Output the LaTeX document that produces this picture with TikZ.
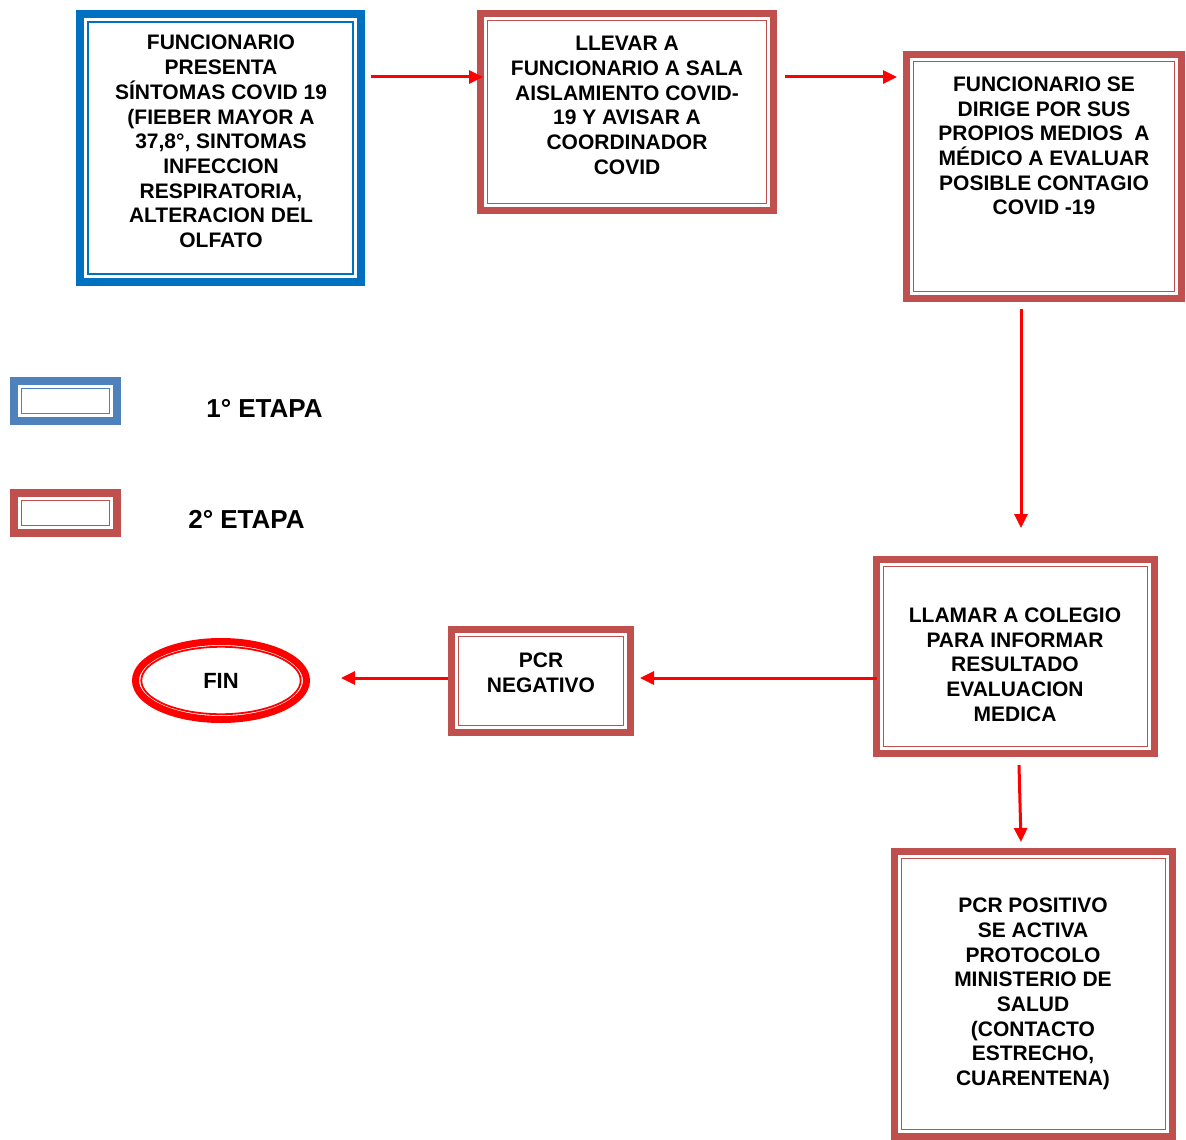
\documentclass[tikz,border=0pt]{standalone}
\usepackage{fontspec}
\setmainfont{Liberation Sans}
\usetikzlibrary{arrows.meta,shapes.geometric}

\definecolor{stageone}{HTML}{0070C0}
\definecolor{legendblue}{HTML}{4F81BD}
\definecolor{stagetwo}{HTML}{C0504D}
\definecolor{flowred}{HTML}{FF0000}

\tikzset{
  stagebox/.style={draw=#1, line width=7pt, fill=white, inner sep=0pt, rectangle},
  boxtext/.style={align=center, inner sep=0pt, font=\bfseries\fontsize{21}{24.7}\selectfont},
  legendtext/.style={inner sep=0pt, font=\bfseries\fontsize{26}{30}\selectfont},
  flow/.style={draw=flowred, line width=3pt, -{Triangle[length=14pt, width=13pt]}},
}

% inner thin frame of a double-framed box, #3 = inset from the outer edge
\newcommand{\innerframe}[3]{%
  \draw[#2, line width=1.7pt] ([shift={(#3,#3)}]#1.north west) rectangle ([shift={(-#3,-#3)}]#1.south east);}

\begin{document}
\begin{tikzpicture}[x=1pt, y=-1pt]
  \useasboundingbox[fill=white] (0,0) rectangle (1186,1140);

  % process boxes
  \node[stagebox=stageone, line width=8pt, minimum width=281pt, minimum height=268pt] (b1) at (220.5,148) {};
  \node[stagebox=stagetwo, minimum width=293pt, minimum height=197pt] (b2) at (627,112) {};
  \node[stagebox=stagetwo, minimum width=275pt, minimum height=244pt] (b3) at (1044,176.5) {};
  \node[stagebox=stagetwo, minimum width=278pt, minimum height=194pt] (b4) at (1015.5,656.5) {};
  \node[stagebox=stagetwo, minimum width=179pt, minimum height=103pt] (b5) at (541,681) {};
  \node[stagebox=stagetwo, minimum width=278pt, minimum height=285pt] (b6) at (1033.5,994) {};

  \innerframe{b1}{stageone}{12}
  \innerframe{b2}{stagetwo}{10.5}
  \innerframe{b3}{stagetwo}{10.5}
  \innerframe{b4}{stagetwo}{10.5}
  \innerframe{b5}{stagetwo}{10.5}
  \innerframe{b6}{stagetwo}{10.5}

  % box texts
  \node[boxtext] (t1) at (221,141.5) {FUNCIONARIO\\PRESENTA\\SÍNTOMAS COVID 19\\(FIEBER MAYOR A\\37,8°, SINTOMAS\\INFECCION\\RESPIRATORIA,\\ALTERACION DEL\\OLFATO};
  \node[boxtext] (t2) at (627,105.5) {LLEVAR A\\FUNCIONARIO A SALA\\AISLAMIENTO COVID-\\19 Y AVISAR A\\COORDINADOR\\COVID};
  \node[boxtext] (t3) at (1044,146) {FUNCIONARIO SE\\DIRIGE POR SUS\\PROPIOS MEDIOS~~A\\MÉDICO A EVALUAR\\POSIBLE CONTAGIO\\COVID -19};
  \node[boxtext] (t4) at (1015,664.5) {LLAMAR A COLEGIO\\PARA INFORMAR\\RESULTADO\\EVALUACION\\MEDICA};
  \node[boxtext] (t5) at (541,673) {PCR\\NEGATIVO};
  \node[boxtext] (t6) at (1033,994) {PCR POSITIVO\\SE ACTIVA\\PROTOCOLO\\MINISTERIO DE\\SALUD\\(CONTACTO\\ESTRECHO,\\CUARENTENA)};

  % end terminal
  \node[draw=flowred, ellipse, line width=7pt, fill=white, inner sep=0pt,
        minimum width=171pt, minimum height=78pt,
        font=\bfseries\fontsize{22}{26}\selectfont] (fin) at (221,680.5) {FIN};
  \draw[flowred, line width=1.8pt] (fin.center) ellipse [x radius=79.7, y radius=33.7];

  % legend
  \node[stagebox=legendblue, line width=8pt, minimum width=103pt, minimum height=40pt] (l1) at (65.5,401) {};
  \innerframe{l1}{legendblue}{11.5}
  \node[legendtext] (lt1) at (264.5,408) {1° ETAPA};
  \node[stagebox=stagetwo, line width=8pt, minimum width=103pt, minimum height=40pt] (l2) at (65.5,513) {};
  \innerframe{l2}{stagetwo}{11.5}
  \node[legendtext] (lt2) at (246.5,519) {2° ETAPA};

  % connectors
  \draw[flow] ([shift={(6,-71)}]b1.east) -- ([shift={(6,-35)}]b2.west);
  \draw[flow] ([shift={(8,-35)}]b2.east) -- ([shift={(-6,-99.5)}]b3.west);
  \draw[flow] ([shift={(-23,6.5)}]b3.south) -- ([shift={(5.5,-28)}]b4.north);
  \draw[flow] ([shift={(4,21.5)}]b4.west) -- ([shift={(6,-3)}]b5.east);
  \draw[flow] ([shift={(0,-3)}]b5.west) -- ([shift={(31,-2.5)}]fin.east);
  \draw[flow] ([shift={(3.5,8)}]b4.south) -- ([shift={(-12.5,-6)}]b6.north);
\end{tikzpicture}
\end{document}
